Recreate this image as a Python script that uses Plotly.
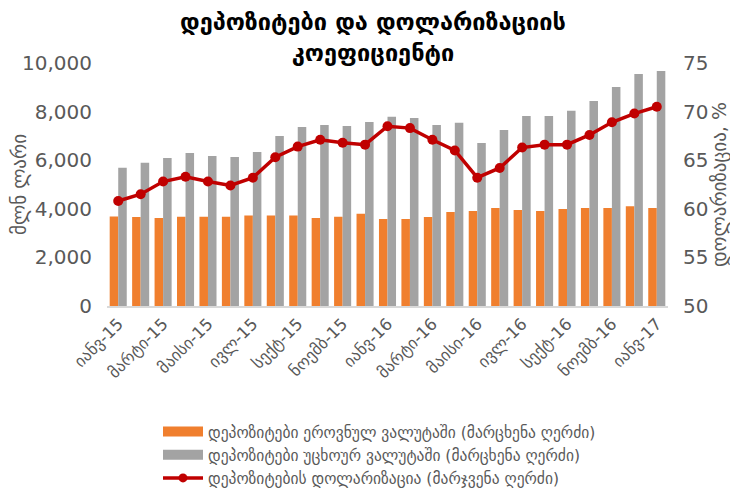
import plotly.graph_objects as go

months = ["იანვ-15", "თებ-15", "მარტი-15", "აპრ-15", "მაისი-15", "ივნ-15", "ივლ-15", "აგვ-15",
          "სექტ-15", "ოქტ-15", "ნოემბ-15", "დეკ-15", "იანვ-16", "თებ-16", "მარტი-16", "აპრ-16",
          "მაისი-16", "ივნ-16", "ივლ-16", "აგვ-16", "სექტ-16", "ოქტ-16", "ნოემბ-16", "დეკ-16",
          "იანვ-17"]
tick_labels = months[::2]

local_ccy = [3680, 3660, 3620, 3670, 3670, 3670, 3720, 3720, 3720, 3620, 3670, 3800, 3580,
             3580, 3660, 3870, 3910, 4030, 3950, 3910, 3990, 4030, 4030, 4110, 4030]
foreign_ccy = [5690, 5890, 6090, 6300, 6170, 6130, 6340, 7000, 7370, 7450, 7410, 7570, 7790,
               7740, 7450, 7540, 6710, 7240, 7820, 7820, 8030, 8440, 9010, 9550, 9670]
dollarization = [60.8, 61.5, 62.8, 63.3, 62.8, 62.4, 63.2, 65.3, 66.4, 67.1, 66.8, 66.6, 68.5,
                 68.3, 67.1, 66.0, 63.2, 64.2, 66.3, 66.6, 66.6, 67.6, 68.9, 69.8, 70.5]

name_local = "დეპოზიტები ეროვნულ ვალუტაში (მარცხენა ღერძი)"
name_foreign = "დეპოზიტები უცხოურ ვალუტაში (მარცხენა ღერძი)"
name_dollar = "დეპოზიტების დოლარიზაცია (მარჯვენა ღერძი)"

FONT = "DejaVu Sans"
GRAY_TXT = "#595959"
ORANGE = "#F07F2E"
GRAY_BAR = "#A3A3A3"
RED = "#C00000"

W, H = 730, 482  # page body margin of 8px fills the rest of the 738x490 window
L, R, T, B = 99, 70, 55, 184

fig = go.Figure()
fig.add_trace(go.Bar(x=months, y=local_ccy, name=name_local, showlegend=False,
                     legendgroup="a", marker=dict(color=ORANGE, line=dict(width=0)),
                     xaxis="x", yaxis="y"))
fig.add_trace(go.Bar(x=months, y=foreign_ccy, name=name_foreign, showlegend=False,
                     legendgroup="b", marker=dict(color=GRAY_BAR, line=dict(width=0)),
                     xaxis="x", yaxis="y"))
fig.add_trace(go.Scatter(x=months, y=dollarization, name=name_dollar, mode="lines+markers",
                         legendgroup="c", showlegend=False,
                         line=dict(color=RED, width=3.5),
                         marker=dict(color=RED, size=10), xaxis="x", yaxis="y2"))

# legend entries (wide swatches, like the original); drawn outside the visible range
fig.add_trace(go.Scatter(x=[months[0]], y=[-1000], name=name_local, mode="lines",
                         legendgroup="a", line=dict(color=ORANGE, width=10),
                         xaxis="x", yaxis="y", hoverinfo="skip"))
fig.add_trace(go.Scatter(x=[months[0]], y=[-1000], name=name_foreign, mode="lines",
                         legendgroup="b", line=dict(color=GRAY_BAR, width=10),
                         xaxis="x", yaxis="y", hoverinfo="skip"))
fig.add_trace(go.Scatter(x=[months[0]], y=[0], name=name_dollar, mode="lines+markers",
                         legendgroup="c", line=dict(color=RED, width=3.5),
                         marker=dict(color=RED, size=9), xaxis="x", yaxis="y2",
                         hoverinfo="skip"))

fig.update_layout(
    width=W, height=H,
    margin=dict(l=L, r=R, t=T, b=B, autoexpand=False),
    paper_bgcolor="white", plot_bgcolor="white",
    barmode="group", bargap=0.24, bargroupgap=0.0,
    font=dict(family=FONT, color=GRAY_TXT),
    title=dict(text="<b>დეპოზიტები და დოლარიზაციის<br>კოეფიციენტი</b>",
               x=0.5, xanchor="center", y=1 - 22 / H, yanchor="middle",
               font=dict(family=FONT, size=23.5, color="black")),
    legend=dict(orientation="v", x=(150 - L) / (W - L - R), xanchor="left",
                yref="container", y=1 - 407 / H, yanchor="top",
                font=dict(size=15.5, color=GRAY_TXT), tracegroupgap=0, itemwidth=40),
    showlegend=True,
    xaxis=dict(type="category", categoryorder="array", categoryarray=months,
               range=[-0.5, len(months) - 0.5],
               tickmode="array", tickvals=tick_labels, ticktext=tick_labels,
               tickangle=-45, tickfont=dict(size=16.5, color=GRAY_TXT), automargin=False,
               domain=[0, 1], anchor="y",
               showline=True, linecolor="#D9D9D9", linewidth=1.5, ticks="", showgrid=False),
    yaxis=dict(range=[0, 10000], tickvals=[0, 2000, 4000, 6000, 8000, 10000],
               tickformat=",", tickfont=dict(size=20, color=GRAY_TXT), automargin=False,
               ticklabelstandoff=14,
               title=dict(text="მლნ ლარი", font=dict(size=19, color=GRAY_TXT), standoff=0),
               showgrid=False, zeroline=False, anchor="x", domain=[0, 1]),
    yaxis2=dict(range=[50, 75], tickvals=[50, 55, 60, 65, 70, 75],
                tickfont=dict(size=20, color=GRAY_TXT), automargin=False,
                ticklabelstandoff=14,
                title=dict(text="დოლარიზაცია, %", font=dict(size=19, color=GRAY_TXT), standoff=5),
                showgrid=False, zeroline=False, overlaying="y", side="right", anchor="x"),
)

fig.write_html("out.html")
